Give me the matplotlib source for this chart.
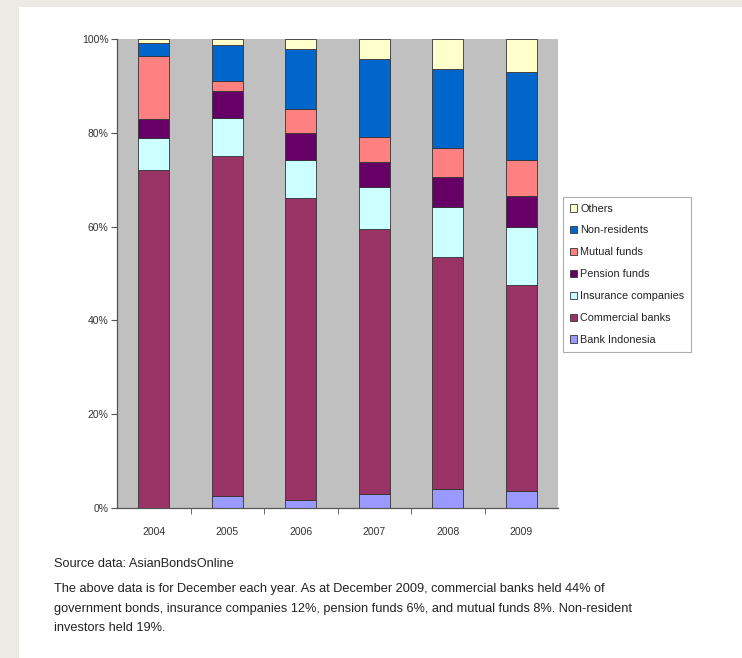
import matplotlib
matplotlib.use("Agg")
import matplotlib.pyplot as plt
import numpy as np
from matplotlib.patches import Rectangle

plt.rcParams['font.family'] = ['Liberation Sans Narrow', 'Liberation Sans', 'DejaVu Sans']

# holders of Indonesian government bonds, % share at December each year
years = ['2004', '2005', '2006', '2007', '2008', '2009']
bank_indonesia = [0.0, 2.6, 1.6, 2.9, 4.1, 3.6]
commercial_banks = [72.1, 72.5, 64.6, 56.5, 49.4, 43.9]
insurance = [6.7, 8.0, 8.1, 9.1, 10.6, 12.5]
pension = [4.2, 5.8, 5.7, 5.3, 6.4, 6.6]
mutual = [13.4, 2.1, 5.0, 5.4, 6.2, 7.6]
non_residents = [2.8, 7.8, 12.9, 16.5, 16.8, 18.7]
others = [0.8, 1.3, 2.1, 4.3, 6.5, 7.1]

series = [
    ('Bank Indonesia', bank_indonesia, '#9999FF'),
    ('Commercial banks', commercial_banks, '#993366'),
    ('Insurance companies', insurance, '#CCFFFF'),
    ('Pension funds', pension, '#660066'),
    ('Mutual funds', mutual, '#FF8080'),
    ('Non-residents', non_residents, '#0066CC'),
    ('Others', others, '#FFFFCC'),
]

W, H = 742, 658
fig = plt.figure(figsize=(W / 100, H / 100), dpi=100)
fig.patch.set_facecolor('#ECEAE5')
# white slide panel behind everything
panel = Rectangle((19 / W, 0), 1 - 19 / W, 1 - 7 / H, transform=fig.transFigure,
                  facecolor='white', edgecolor='none', zorder=-10)
fig.add_artist(panel)

ax = fig.add_axes([117 / W, 1 - 508 / H, 441 / W, 469 / H])
ax.set_facecolor('#C0C0C0')

x = np.arange(len(years))
bottom = np.zeros(len(years))
handles = []
for name, vals, col in series:
    b = ax.bar(x, vals, 0.42, bottom=bottom, color=col, edgecolor='#333333', linewidth=0.6, label=name)
    bottom += np.array(vals)
    handles.append(b)

ax.set_xlim(-0.5, len(years) - 0.5)
ax.set_ylim(0, 100)
ax.set_yticks([0, 20, 40, 60, 80, 100])
ax.set_yticklabels(['0%', '20%', '40%', '60%', '80%', '100%'])
ax.set_xticks(x)
ax.set_xticklabels(years)
ax.set_xticks(np.arange(0.5, len(years) - 0.5, 1), minor=True)
ax.tick_params(axis='x', which='major', length=0, pad=14, labelsize=7.5, labelcolor='#333333')
ax.tick_params(axis='x', which='minor', length=4, color='#555555', direction='out')
ax.tick_params(axis='y', length=4, color='#555555', labelsize=7.5, labelcolor='#333333', pad=2)
for s in ['top', 'right']:
    ax.spines[s].set_visible(False)
for s in ['left', 'bottom']:
    ax.spines[s].set_color('#555555')
    ax.spines[s].set_linewidth(0.9)

leg = fig.legend(handles[::-1], [s[0] for s in series][::-1], loc='upper left',
                 bbox_to_anchor=(563 / W, 1 - 197 / H), fontsize=7.8, frameon=True,
                 fancybox=False, edgecolor='#999999', handlelength=0.7, handleheight=0.7,
                 handletextpad=0.3, labelspacing=1.1, borderpad=0.6, borderaxespad=0)
leg.get_frame().set_linewidth(0.8)
for t in leg.get_texts():
    t.set_color('#222222')

fig.text(54 / W, 1 - 564 / H, 'Source data: AsianBondsOnline', fontsize=9.2, color='#222222',
         va='center', family=['Liberation Sans', 'DejaVu Sans'])
fig.text(54 / W, 1 - 583 / H,
         'The above data is for December each year. As at December 2009, commercial banks held 44% of\n'
         'government bonds, insurance companies 12%, pension funds 6%, and mutual funds 8%. Non-resident\n'
         'investors held 19%.',
         fontsize=9.2, color='#222222', va='top', linespacing=1.85,
         family=['Liberation Sans', 'DejaVu Sans'])

fig.savefig('out.png', dpi=100, facecolor=fig.get_facecolor())
